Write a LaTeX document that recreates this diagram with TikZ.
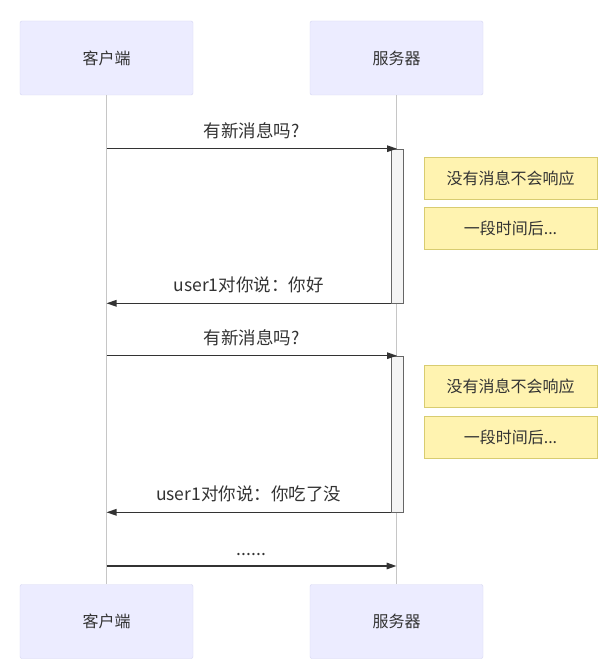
\documentclass[tikz,border=0pt]{standalone}
\usepackage{fontspec}
\setmainfont{Noto Sans CJK SC}
\usetikzlibrary{arrows.meta, positioning}
\usepackage{xcolor}

\definecolor{actfill}{HTML}{ECECFF}
\definecolor{actline}{HTML}{D6D6F2}
\definecolor{notefill}{HTML}{FFF3B0}
\definecolor{noteline}{HTML}{D8CC70}
\definecolor{barfill}{HTML}{F4F4F4}
\definecolor{ink}{HTML}{333333}

\begin{document}
\begin{tikzpicture}[x=1pt, y=-1pt,
    actor/.style={draw=actline, fill=actfill, rounded corners=2pt, inner sep=0pt,
      minimum width=173pt, minimum height=74pt, text=ink, font=\fontsize{16}{18}\selectfont},
    note/.style={draw=noteline, fill=notefill, inner sep=0pt,
      minimum width=173pt, minimum height=42pt, text=ink, font=\fontsize{16}{18}\selectfont},
    bar/.style={draw=gray!80!black, fill=barfill, inner sep=0pt, minimum width=12pt, line width=0.6pt},
    life/.style={draw=gray!45, line width=0.6pt},
    msg/.style={draw=ink, line width=1.4pt, -{Triangle[length=10pt, width=6.5pt]}},
    lbl/.style={above=6pt, text=ink, font=\fontsize{17.5}{19}\selectfont}]

      \useasboundingbox[fill=white] (0, 0) rectangle (612, 668);

      \node[actor] (cliT) at (106.5, 58) {客户端};
      \node[actor] (srvT) at (396.5, 58) {服务器};
      \node[actor] (cliB) at (106.5, 621.5) {客户端};
      \node[actor] (srvB) at (396.5, 621.5) {服务器};

      \draw[life] (cliT.south) -- (cliB.north);
      \draw[life] (srvT.south) -- (srvB.north);

      \node[bar, minimum height=154pt] (act1) at (397, 226) {};
      \node[bar, minimum height=156pt] (act2) at (397, 434) {};

      \node[note] (wait1) at (510.5, 178) {没有消息不会响应};
      \node[note] (time1) at (510.5, 228.5) {一段时间后...};
      \node[note] (wait2) at (510.5, 386.5) {没有消息不会响应};
      \node[note] (time2) at (510.5, 437.5) {一段时间后...};

      \draw[msg] (act1.north -| cliT) -- node[lbl] {有新消息吗?} (act1.north);
      \draw[msg] (act1.south west) -- node[lbl] {user1对你说：你好} (act1.south west -| cliT);

      \draw[msg] (act2.north -| cliT) -- node[lbl] {有新消息吗?} (act2.north);
      \draw[msg] (act2.south west) -- node[lbl] {user1对你说：你吃了没} (act2.south west -| cliT);

      \coordinate (c5) at (106.5, 566);
      \coordinate (s5) at (396.5, 566);
      \draw[msg] (c5) -- node[lbl] {......} (s5);

    \end{tikzpicture}
\end{document}
